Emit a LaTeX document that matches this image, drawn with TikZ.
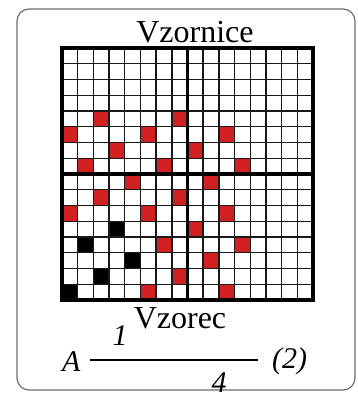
\documentclass[tikz,border=0pt]{standalone}
\usepackage{fontspec}
\setmainfont{Liberation Serif}
\definecolor{cellred}{RGB}{208,32,32}
\definecolor{framegray}{RGB}{110,110,110}
\definecolor{linegray}{RGB}{25,25,25}
\begin{document}
\begin{tikzpicture}[x=1pt,y=-1pt,
  frame/.style={draw=framegray,line width=1.2pt,rounded corners=12pt},
  gridline/.style={draw=linegray,line width=1.4pt},
  heavyline/.style={draw=black,line width=3.2pt},
  redcell/.style={fill=cellred},
  blackcell/.style={fill=black},
  bigtext/.style={font=\fontsize{32}{32}\selectfont,inner sep=0pt},
  formtext/.style={font=\fontsize{30}{30}\selectfont\itshape,inner sep=0pt}]
\useasboundingbox (0,0) rectangle (358,393);
\fill[white] (0,0) rectangle (358,393);
\draw[frame] (17,9) rectangle (355,390);
\begin{scope}[shift={(62,48)},x=15.6875pt,y=-15.75pt]
  \foreach \r in {4,...,15}{
    \foreach \c in {0,...,11}{
      \pgfmathtruncatemacro\m{mod(\c+2*\r,5)}
      \ifnum\m=0
        \ifnum\r>10
          \ifnum\c<5
            \fill[blackcell] (\c,\r) rectangle ++(1,1);
          \else
            \fill[redcell] (\c,\r) rectangle ++(1,1);
          \fi
        \else
          \fill[redcell] (\c,\r) rectangle ++(1,1);
        \fi
      \fi
    }
  }
  \foreach \i in {1,...,15}{
    \draw[gridline] (\i,0) -- (\i,16);
    \draw[gridline] (0,\i) -- (16,\i);
  }
  \draw[heavyline] (8,0) -- (8,16);
  \draw[heavyline] (0,8) -- (16,8);
  \draw[heavyline,line join=miter] (0,0) rectangle (16,16);
  \draw[draw=black,line width=1.5pt] (-0.08,0) -- (-0.08,16.08) -- (16,16.08);
\end{scope}
\node[bigtext,anchor=base] (title) at (195,43) {Vzornice};
\node[bigtext,anchor=base] (sub) at (180,328) {Vzorec};
\node[formtext,anchor=base west] (A) at (62,371) {A};
\node[formtext,anchor=base] (one) at (120,345) {1};
\node[formtext,anchor=base] (four) at (219,392) {4};
\node[formtext,anchor=base west] (two) at (272,368) {(2)};
\coordinate (ls) at (90,360);
\coordinate (le) at (258,360);
\draw[line width=1.5pt] (ls) -- (le);
\end{tikzpicture}
\end{document}
